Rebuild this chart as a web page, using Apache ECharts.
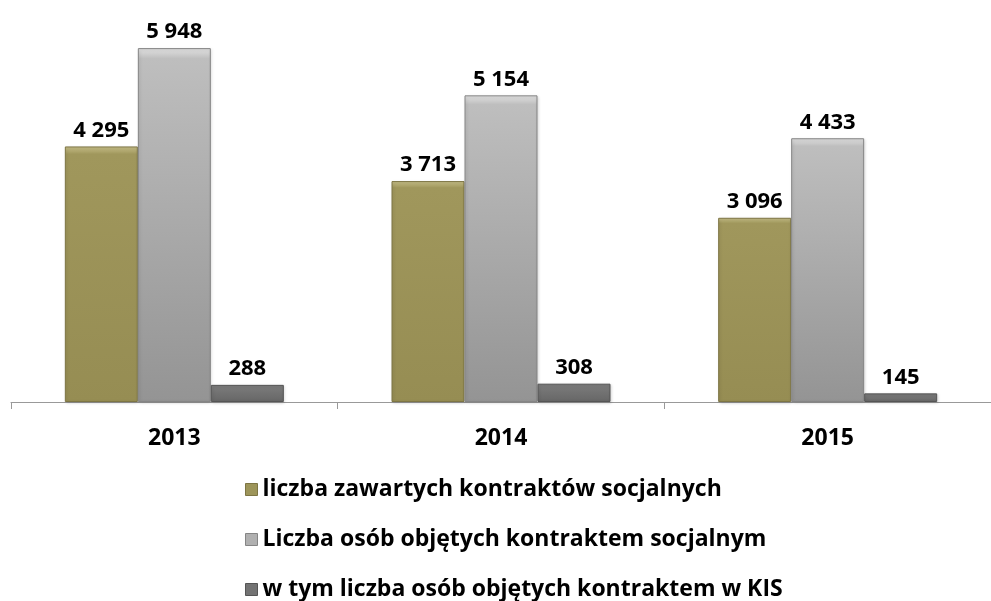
<!DOCTYPE html>
<html>
<head>
<meta charset="utf-8">
<script src="https://cdn.jsdelivr.net/npm/echarts@6/dist/echarts.min.js"></script>
<style>
  html, body { margin: 0; padding: 0; background: #fff; }
  #chart { width: 991px; height: 601px; }
</style>
</head>
<body>
<div id="chart"></div>
<script>
const years = ['2013', '2014', '2015'];
const seriesNames = [
  'liczba zawartych kontraktów socjalnych',
  'Liczba osób objętych kontraktem socjalnym',
  'w tym liczba osób objętych kontraktem w KIS'
];
const contracts = [4295, 3713, 3096];
const persons = [5948, 5154, 4433];
const personsKis = [288, 308, 145];

const font = 'Open Sans';

function grad(top, mid, bottom) {
  return new echarts.graphic.LinearGradient(0, 0, 0, 1, [
    { offset: 0, color: top },
    { offset: 0.03, color: mid },
    { offset: 1, color: bottom }
  ]);
}

function fmt(p) {
  return String(p.value).replace(/\B(?=(\d{3})+(?!\d))/g, ' ');
}

const colors = [
  { fill: grad('#c9c18a', '#a0975c', '#968d53'), border: '#7d7544', icon: '#9d955a' },
  { fill: grad('#e2e2e2', '#bebebe', '#949494'), border: '#858585', icon: '#b0b0b0' },
  { fill: grad('#b8b8b8', '#7c7c7c', '#666666'), border: '#555555', icon: '#737373' }
];

const data = [contracts, persons, personsKis];

const chart = echarts.init(document.getElementById('chart'));
chart.setOption({
  animation: false,
  textStyle: { fontFamily: font },
  grid: { left: 11, top: 45, width: 983, height: 357, containLabel: false },
  legend: {
    orient: 'vertical',
    left: 245,
    top: 478,
    height: 130,
    padding: 0,
    itemWidth: 12,
    itemHeight: 12,
    itemGap: 27,
    textStyle: { fontFamily: font, fontWeight: 'bold', fontSize: 23, color: '#000' },
    data: seriesNames.map((n, i) => ({ name: n, icon: 'rect', itemStyle: { color: colors[i].icon, borderColor: colors[i].border, borderWidth: 1 } }))
  },
  xAxis: {
    type: 'category',
    data: years,
    axisLine: { lineStyle: { color: '#999', width: 1 } },
    axisTick: { show: true, length: 7, lineStyle: { color: '#999' } },
    axisLabel: { fontFamily: font, fontWeight: 'bold', fontSize: 23, color: '#000', margin: 25 }
  },
  yAxis: {
    type: 'value',
    min: 0,
    max: 6000,
    show: false,
    splitLine: { show: false }
  },
  series: seriesNames.map((n, i) => ({
    name: n,
    type: 'bar',
    data: data[i],
    barWidth: 73,
    barGap: '0%',
    itemStyle: {
      color: colors[i].fill,
      borderColor: colors[i].border,
      borderWidth: 1,
      shadowColor: 'rgba(0,0,0,0.15)',
      shadowBlur: 3,
      shadowOffsetX: 1,
      shadowOffsetY: 1
    },
    label: {
      show: true,
      position: 'top',
      distance: 5,
      formatter: fmt,
      fontFamily: font,
      fontWeight: 'bold',
      fontSize: 22,
      color: '#000'
    }
  }))
});
</script>
</body>
</html>
